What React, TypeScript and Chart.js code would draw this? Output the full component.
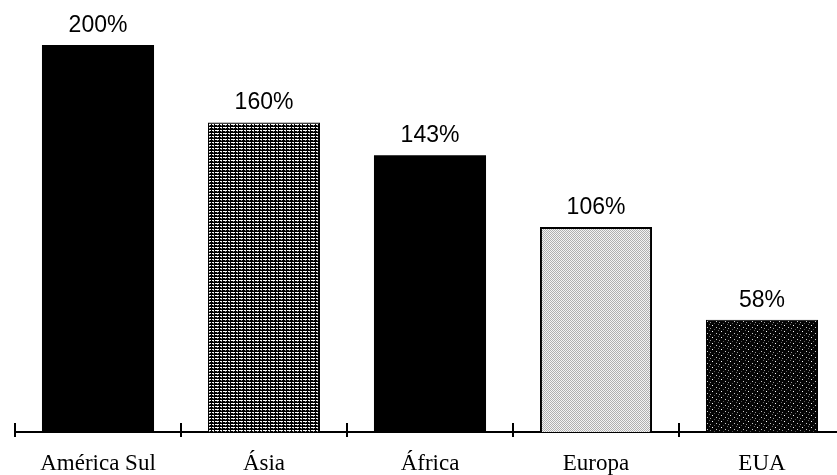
import React, { useEffect, useRef } from "react";
import { Chart, registerables } from "chart.js";

Chart.register(...registerables);

const categories: string[] = ["América Sul", "Ásia", "África", "Europa", "EUA"];
const values: number[] = [200, 160, 143, 106, 58];
const valueLabels: string[] = ["200%", "160%", "143%", "106%", "58%"];

function makePattern(w: number, h: number, bg: string, pixels: [number, number, string][]): CanvasPattern | string {
  const c = document.createElement("canvas");
  c.width = w;
  c.height = h;
  const ctx = c.getContext("2d");
  if (!ctx) return bg;
  ctx.fillStyle = bg;
  ctx.fillRect(0, 0, w, h);
  for (const [x, y, col] of pixels) {
    ctx.fillStyle = col;
    ctx.fillRect(x, y, 1, 1);
  }
  const p = ctx.createPattern(c, "repeat");
  return p || bg;
}

export default function App() {
  const ref = useRef<HTMLCanvasElement | null>(null);

  useEffect(() => {
    const canvas = ref.current;
    if (!canvas) return;

    // Stripes pattern (Ásia): black rows with white dashed rows
    const stripePix: [number, number, string][] = [];
    for (let x = 0; x < 8; x++) {
      if (x !== 3 && x !== 6) stripePix.push([x, 1, "#ffffff"]);
      if (x === 1 || x === 5) stripePix.push([x, 2, "#8a8a8a"]);
    }
    const stripes = makePattern(8, 3, "#000000", stripePix);

    // Light dotted pattern (Europa)
    const dotPix: [number, number, string][] = [];
    for (let y = 0; y < 4; y++) {
      for (let x = 0; x < 4; x++) {
        if ((x + y) % 2 === 0) dotPix.push([x, y, "#b0b0b0"]);
      }
    }
    const dots = makePattern(4, 4, "#f4f4f4", dotPix);

    // Dark speckled pattern (EUA)
    const speck = makePattern(9, 6, "#050505", [
      [1, 1, "#ffffff"],
      [5, 3, "#cccccc"],
      [7, 0, "#666666"],
      [3, 5, "#555555"],
      [8, 4, "#999999"],
    ]);

    const fills = ["#000000", stripes, "#000000", dots, speck];
    const borders = [0, 1, 0, 2, 1];

    const overlay = {
      id: "overlay",
      afterDatasetsDraw(chart: any) {
        const ctx = chart.ctx;
        const meta = chart.getDatasetMeta(0);
        ctx.save();
        ctx.fillStyle = "#000";
        ctx.font = '23px "Liberation Sans", Arial, sans-serif';
        ctx.textAlign = "center";
        ctx.textBaseline = "alphabetic";
        meta.data.forEach((bar: any, i: number) => {
          ctx.fillText(valueLabels[i], bar.x, bar.y - 13);
        });
        // category boundary ticks crossing the axis
        const xs = chart.scales.x;
        const bottom = chart.chartArea.bottom;
        const half = (xs.getPixelForValue(1) - xs.getPixelForValue(0)) / 2;
        ctx.strokeStyle = "#000";
        ctx.lineWidth = 2;
        for (let i = 0; i <= categories.length; i++) {
          const x = Math.round(xs.getPixelForValue(0) - half + i * 2 * half);
          ctx.beginPath();
          ctx.moveTo(x, bottom - 9);
          ctx.lineTo(x, bottom + 5);
          ctx.stroke();
        }
        ctx.restore();
      },
    };

    const chart = new Chart(canvas, {
      type: "bar",
      data: {
        labels: categories,
        datasets: [
          {
            data: values,
            backgroundColor: fills as any,
            borderColor: "#000000",
            borderWidth: borders,
            categoryPercentage: 1,
            barPercentage: 0.675,
          },
        ],
      },
      options: {
        animation: false,
        responsive: false,
        layout: { padding: { left: 15, right: 15, top: 0, bottom: 0 } },
        plugins: {
          legend: { display: false },
          tooltip: { enabled: false },
        },
        scales: {
          y: { display: false, min: 0, max: 223.26 },
          x: {
            afterFit(scale: any) {
              scale.height = 43;
            },
            grid: { display: false, drawTicks: false },
            border: { display: true, color: "#000", width: 2 },
            ticks: {
              color: "#000",
              padding: 18,
              font: { family: '"Liberation Serif", "Times New Roman", serif', size: 23 },
              maxRotation: 0,
              autoSkip: false,
            },
          },
        },
      },
      plugins: [overlay],
    });

    return () => chart.destroy();
  }, []);

  return (
    <div
      style={{
        position: "absolute",
        left: 0,
        top: 0,
        width: 837,
        height: 475,
        overflow: "hidden",
        background: "#fff",
      }}
    >
      <canvas ref={ref} width={860} height={475} style={{ display: "block" }} />
    </div>
  );
}
